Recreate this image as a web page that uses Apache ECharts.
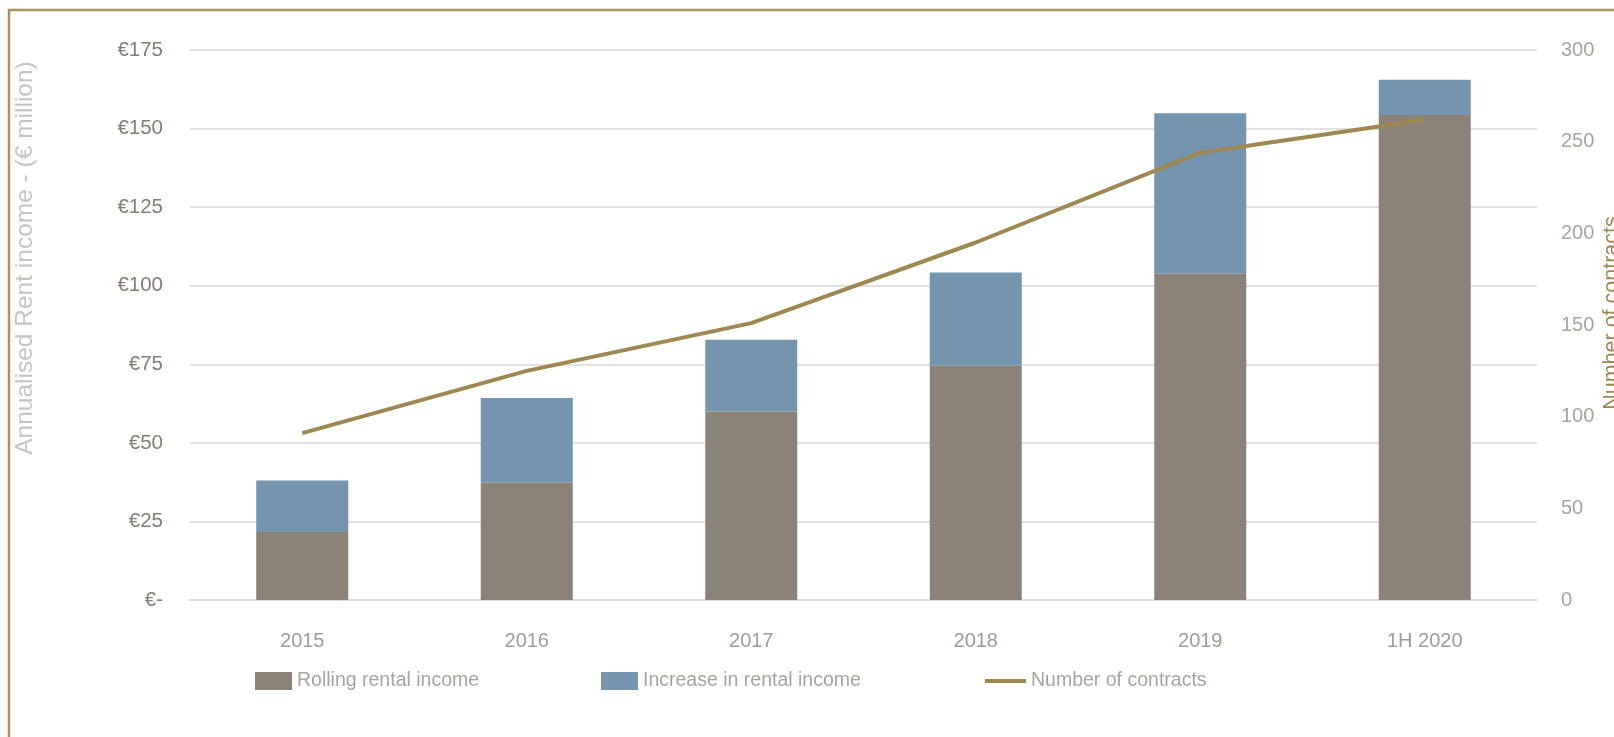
<!DOCTYPE html>
<html>
<head>
<meta charset="utf-8">
<script src="https://cdn.jsdelivr.net/npm/echarts@6/dist/echarts.min.js"></script>
<style>
  html, body { margin: 0; padding: 0; background: #fff; }
  #chart { width: 1614px; height: 737px; }
</style>
</head>
<body>
<div id="chart"></div>
<script>
var categories = ['2015', '2016', '2017', '2018', '2019', '1H 2020'];
var rolling = [21.6, 37.3, 60, 74.6, 103.8, 154.3];
var increase = [16.4, 27, 22.8, 29.6, 51.1, 11.2];
var contracts = [91, 125, 151, 195, 244, 262];

var FONT = "'Liberation Sans', Arial, sans-serif";
var GOLD = '#9e8852';
var legendText = { color: '#a9a39d', fontSize: 19.5, fontFamily: FONT };

var myChart = echarts.init(document.getElementById('chart'));
myChart.setOption({
  animation: false,
  textStyle: { fontFamily: FONT },
  grid: { left: 190, right: 77, top: 50, bottom: 137, outerBoundsMode: 'none' },
  graphic: [
    {
      type: 'rect',
      shape: { x: 9, y: 10, width: 1700, height: 800 },
      style: { fill: 'none', stroke: '#a8945f', lineWidth: 2.5 },
      silent: true
    },
    {
      type: 'text',
      x: 25, y: 258,
      rotation: Math.PI / 2,
      style: {
        text: 'Annualised Rent income - (€ million)',
        fill: '#c8c5c1',
        font: '24.5px ' + FONT,
        align: 'center',
        verticalAlign: 'middle'
      }
    },
    {
      type: 'text',
      x: 1612, y: 313,
      rotation: Math.PI / 2,
      style: {
        text: 'Number of contracts',
        fill: GOLD,
        font: '21.5px ' + FONT,
        align: 'center',
        verticalAlign: 'middle'
      }
    }
  ],
  legend: [
    {
      left: 255, top: 671, padding: 0,
      itemWidth: 37, itemHeight: 18, icon: 'rect',
      textStyle: legendText,
      data: ['Rolling rental income']
    },
    {
      left: 601, top: 671, padding: 0,
      itemWidth: 37, itemHeight: 18, icon: 'rect',
      textStyle: legendText,
      data: ['Increase in rental income']
    },
    {
      left: 985, top: 671, padding: 0,
      itemWidth: 41, itemHeight: 4, icon: 'rect',
      textStyle: legendText,
      data: ['Number of contracts']
    }
  ],
  xAxis: {
    type: 'category',
    data: categories,
    axisTick: { show: false },
    axisLine: { lineStyle: { color: '#d9d9d9', width: 1.5 } },
    axisLabel: { color: '#a19b95', fontSize: 20, margin: 31, fontFamily: FONT }
  },
  yAxis: [
    {
      type: 'value',
      min: 0, max: 175, interval: 25,
      axisLine: { show: false },
      axisTick: { show: false },
      splitLine: { lineStyle: { color: '#d9d9d9', width: 1.5 } },
      axisLabel: {
        color: '#857d73', fontSize: 20.5, margin: 27, fontFamily: FONT,
        formatter: function (v) { return v === 0 ? '€-' : '€' + v; }
      }
    },
    {
      type: 'value',
      min: 0, max: 300, interval: 50,
      position: 'right',
      axisLine: { show: false },
      axisTick: { show: false },
      splitLine: { show: false },
      axisLabel: { color: '#a8a29c', fontSize: 20, margin: 24, fontFamily: FONT }
    }
  ],
  series: [
    {
      name: 'Rolling rental income',
      type: 'bar',
      stack: 'rent',
      barWidth: 92,
      itemStyle: { color: '#8b8378' },
      data: rolling
    },
    {
      name: 'Increase in rental income',
      type: 'bar',
      stack: 'rent',
      barWidth: 92,
      itemStyle: { color: '#7594ae' },
      data: increase
    },
    {
      name: 'Number of contracts',
      type: 'line',
      yAxisIndex: 1,
      symbol: 'none',
      lineStyle: { color: GOLD, width: 4 },
      itemStyle: { color: GOLD },
      data: contracts
    }
  ]
});
</script>
</body>
</html>
